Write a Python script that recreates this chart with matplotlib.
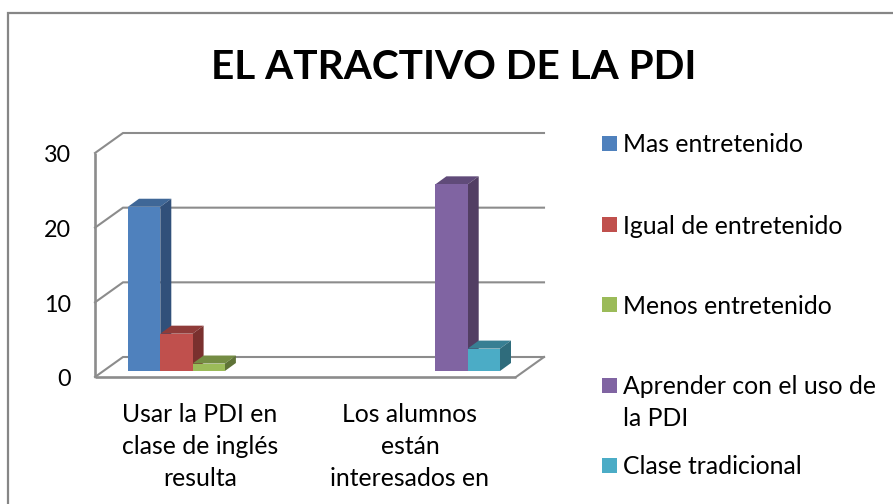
import numpy as np
import matplotlib as mp
mp.use("Agg")
from matplotlib import pyplot as plt
from matplotlib.patches import Rectangle

plt.rcParams['font.family'] = ['Lato', 'DejaVu Sans']

W, H = 893, 504

title = "EL ATRACTIVO DE LA PDI"
categories = ["Usar la PDI en\nclase de inglés\nresulta", "Los alumnos\nestán\ninteresados en"]
y_ticks = [0, 10, 20, 30]

series_names = ["Mas entretenido", "Igual de entretenido", "Menos entretenido",
                "Aprender con el uso de\nla PDI", "Clase tradicional"]
mas_entretenido = [22, 0]
igual_entretenido = [5, 0]
menos_entretenido = [1, 0]
aprender_pdi = [0, 25]
clase_tradicional = [0, 3]

front_colors = ["#4f81bd", "#c0504d", "#9bbb59", "#8064a2", "#4bacc6"]
top_colors = ["#3f6797", "#8f3b39", "#748c43", "#604b79", "#387f93"]
side_colors = ["#31507a", "#7a302e", "#5f7337", "#523e63", "#2f6c7c"]

GRID = "#8c8c8c"
FONT = 17.8

# plot geometry, px
x0, x1 = 95, 516        # front floor edge
y0, y30 = 377, 153      # front wall
dx, dy = 28, 20         # wall depth
bdx, bdy = 11, 8        # bar depth
bar_w = 32.3
bar_shift = 33          # first bar from the wall
base_lift = 6           # bars stand a bit inside the floor


def px_y(v):
    return y0 - (y0 - y30) / 30 * v


def draw_walls(ax):
    ax.plot([x0, x0], [px_y(0), px_y(30)], color=GRID, lw=1.9, solid_capstyle='butt')
    ax.plot([x0, x1], [px_y(0), px_y(0)], color=GRID, lw=1.9, solid_capstyle='butt')
    for t in y_ticks:
        ax.plot([x0, x0 + dx, x1 + dx], [px_y(t), px_y(t) - dy, px_y(t) - dy],
                color=GRID, lw=1.5, solid_joinstyle='miter')
    ax.plot([x1, x1 + dx], [px_y(0), px_y(0) - dy], color=GRID, lw=1.5)
    for t in y_ticks:
        ax.text(x0 - 24, px_y(t) + 1, str(t), ha='right', va='center_baseline', fontsize=16.8, color="black")


def draw_bars(ax):
    all_series = [mas_entretenido, igual_entretenido, menos_entretenido, aprender_pdi, clase_tradicional]
    for i, values in enumerate(all_series):
        for c, v in enumerate(values):
            if v == 0:
                continue
            left = x0 + bar_shift + (x1 - x0) / 2 * c + bar_w * i
            right = left + bar_w
            base = px_y(0) - base_lift
            top = base - (y0 - y30) / 30 * v
            ax.fill([left, left + bdx, right + bdx, right], [top, top - bdy, top - bdy, top],
                    color=top_colors[i], lw=0, zorder=3)
            ax.fill([right, right + bdx, right + bdx, right], [base, base - bdy, top - bdy, top],
                    color=side_colors[i], lw=0, zorder=3)
            ax.bar(left, top - base, width=bar_w, bottom=base, align='edge',
                   color=front_colors[i], lw=0, zorder=3)


def draw_legend(ax):
    ys = [143, 224, 304, 384.5, 465]
    for name, y, col in zip(series_names, ys, front_colors):
        ax.add_patch(Rectangle((602, y - 7), 15, 15, color=col, lw=0))
        ax.text(623, y, name.split("\n")[0], ha='left', va='center_baseline', fontsize=FONT)
        if "\n" in name:
            ax.text(623, y + 32, name.split("\n")[1], ha='left', va='center_baseline', fontsize=FONT)


def main():
    fig = plt.figure(figsize=(W / 100, H / 100), dpi=100)
    ax = fig.add_axes([0, 0, 1, 1])
    ax.set_xlim(0, W)
    ax.set_ylim(H, 0)
    ax.axis('off')

    ax.plot([8, 8, W + 5], [H + 5, 13, 13], color="#868686", lw=1.6, solid_joinstyle='miter')

    ax.text(454, 64, title, ha='center', va='center_baseline', fontsize=29.2, fontweight='bold')

    draw_walls(ax)
    draw_bars(ax)
    ax.set_xlim(0, W)
    ax.set_ylim(H, 0)

    centers = [200, 410]
    line_ys = [412, 444, 477]
    for c, lab in zip(centers, categories):
        for ly, line in zip(line_ys, lab.split("\n")):
            ax.text(c, ly, line, ha='center', va='center_baseline', fontsize=FONT)

    draw_legend(ax)
    fig.savefig("out.png", dpi=100)


if __name__ == "__main__":
    main()
